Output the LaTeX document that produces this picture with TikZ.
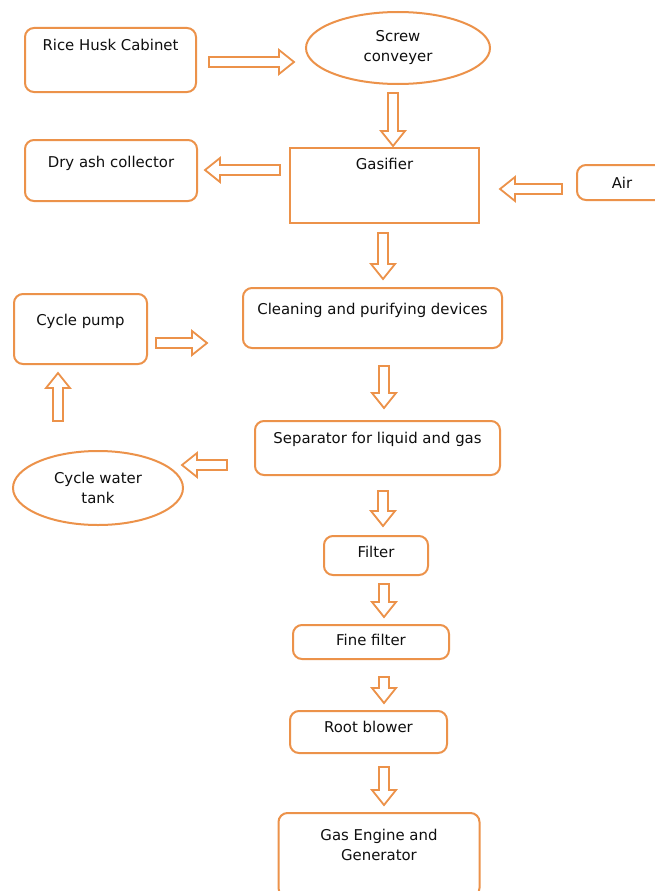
\documentclass[tikz,border=0pt]{standalone}
\usepackage{fontspec}
\setmainfont{DejaVu Sans}
\usetikzlibrary{shapes.geometric,calc}
\definecolor{orng}{RGB}{236,146,74}
\definecolor{txt}{RGB}{15,15,15}
\tikzset{
  base/.style={draw=orng, line width=2pt, inner sep=0pt, text=txt,
    font=\fontsize{14.9}{20}\selectfont, align=center},
  rbox/.style={base, rectangle, rounded corners=9pt},
  sbox/.style={base, rectangle},
  ell/.style={base, ellipse},
  toptext/.style 2 args={label={[anchor=center, yshift=-#1pt, align=center, text=txt,
    font=\fontsize{14.9}{20}\selectfont]above:{#2}}},
  arrowline/.style={draw=orng, line width=1.8pt, fill=white, line join=miter},
}
\newcommand\flowarrow[2]{%
  \coordinate (fa-s) at #1;
  \coordinate (fa-e) at #2;
  \coordinate (fa-h) at ($(fa-e)!15pt!(fa-s)$);
  \draw[arrowline] ($(fa-s)!5pt!90:(fa-e)$) -- ($(fa-h)!5pt!90:(fa-e)$)
    -- ($(fa-h)!12pt!90:(fa-e)$) -- (fa-e) -- ($(fa-h)!12pt!-90:(fa-e)$)
    -- ($(fa-h)!5pt!-90:(fa-e)$) -- ($(fa-s)!5pt!-90:(fa-e)$) -- cycle;}
\begin{document}
\begin{tikzpicture}[x=1pt,y=-1pt]
\useasboundingbox (0,0) rectangle (655,891);
\fill[white] (0,0) rectangle (655,891);
% nodes
\node[rbox, minimum width=171pt, minimum height=64pt, toptext={18}{Rice Husk Cabinet}] (rice) at (110.5,60) {};
\node[ell, minimum width=184pt, minimum height=72pt] (screw) at (398,48) {Screw\\conveyer};
\node[sbox, minimum width=189pt, minimum height=75pt, toptext={17}{Gasifier}] (gasifier) at (384.5,185.5) {};
\node[rbox, minimum width=172pt, minimum height=61pt, toptext={24}{Dry ash collector}] (dry) at (111,170.5) {};
\node[rbox, minimum width=90pt, minimum height=35pt, text width=86pt] (air) at (622,182.5) {Air};
\node[rbox, minimum width=259pt, minimum height=60pt, toptext={23}{Cleaning and purifying devices}] (clean) at (372.5,318) {};
\node[rbox, minimum width=133pt, minimum height=70pt, toptext={28}{Cycle pump}] (pump) at (80.5,329) {};
\node[rbox, minimum width=245pt, minimum height=54pt, toptext={19}{Separator for liquid and gas}] (sep) at (377.5,448) {};
\node[ell, minimum width=170pt, minimum height=74pt] (tank) at (98,488) {Cycle water\\tank};
\node[rbox, minimum width=104pt, minimum height=39pt, toptext={17}{Filter}] (filter) at (376,555.5) {};
\node[rbox, minimum width=156pt, minimum height=34pt, toptext={16}{Fine filter}] (fine) at (371,642) {};
\node[rbox, minimum width=157pt, minimum height=42pt, toptext={17}{Root blower}] (root) at (368.5,732) {};
\node[rbox, minimum width=201pt, minimum height=84pt, toptext={33}{Gas Engine and\\Generator}] (gas) at (379,855) {};
% arrows
\flowarrow{($(rice.east)+(12,2)$)}{($(screw.west)+(-11,14)$)}
\flowarrow{($(screw.south)+(-5,8)$)}{($(gasifier.north)+(8.5,-1)$)}
\flowarrow{($(gasifier.west)+(-9,-15.5)$)}{($(dry.east)+(7,-0.5)$)}
\flowarrow{($(air.west)+(-14,6.5)$)}{($(gasifier.east)+(20,3.5)$)}
\flowarrow{($(gasifier.south)+(-1.5,9)$)}{($(clean.north)+(10.5,-8)$)}
\flowarrow{($(pump.east)+(8,14)$)}{($(clean.west)+(-35,25)$)}
\flowarrow{($(tank.north)+(-40,-29)$)}{($(pump.south)+(-22.5,8)$)}
\flowarrow{($(clean.south)+(11.5,17)$)}{($(sep.north)+(6.5,-12)$)}
\flowarrow{($(sep.west)+(-27,17)$)}{($(tank.east)+(-2,-23)$)}
\flowarrow{($(sep.south)+(5.5,15)$)}{($(filter.north)+(7,-9)$)}
\flowarrow{($(filter.south)+(8,8)$)}{($(fine.north)+(13,-7)$)}
\flowarrow{($(fine.south)+(13,17)$)}{($(root.north)+(15.5,-7)$)}
\flowarrow{($(root.south)+(15.5,13)$)}{($(gas.north)+(5,-7)$)}
\end{tikzpicture}
\end{document}
